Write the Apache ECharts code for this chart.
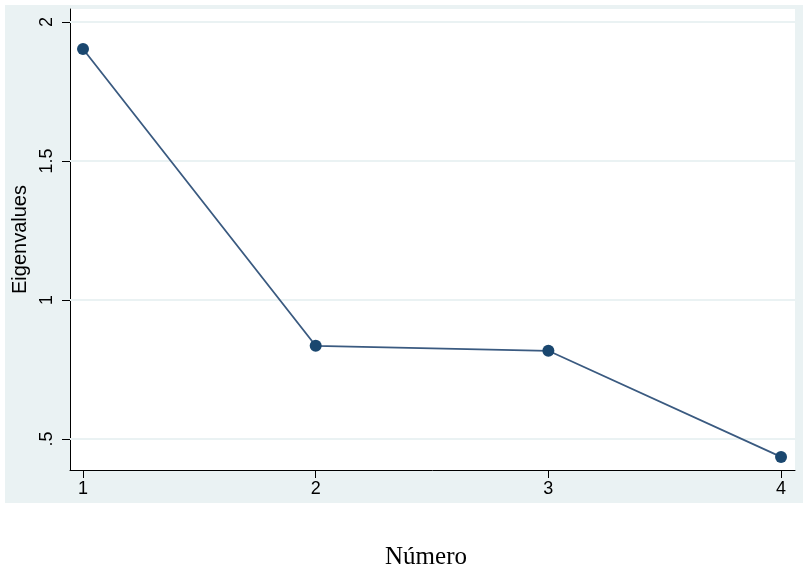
<!DOCTYPE html>
<html>
<head>
<meta charset="utf-8">
<script src="https://cdn.jsdelivr.net/npm/echarts@6/dist/echarts.min.js"></script>
<style>
html,body{margin:0;padding:0;background:#fff;}
#c{width:803px;height:574px;}
</style>
</head>
<body>
<div id="c"></div>
<script>
var numbers = [1, 2, 3, 4];
var eigenvalues = [1.903, 0.835, 0.817, 0.435];
var yTicks = [0.5, 1, 1.5, 2];
var yTickLabels = ['.5', '1', '1.5', '2'];
var xTicks = [1, 2, 3, 4];
var yTitle = 'Eigenvalues';
var xTitle = 'Número';

var chart = echarts.init(document.getElementById('c'), null, {renderer: 'canvas'});
var font = 'Liberation Sans, Arial, sans-serif';
var labelMap = {};
yTicks.forEach(function (v, i) { labelMap[v] = yTickLabels[i]; });

chart.setOption({
  animation: false,
  backgroundColor: '#ffffff',
  graphic: [
    {
      type: 'rect', z: -100, zlevel: 0, silent: true,
      shape: {x: 5, y: 5, width: 798, height: 498},
      style: {fill: '#EAF2F3'}
    },
    {
      type: 'text', x: 426, y: 557, silent: true,
      style: {
        text: xTitle, fill: '#000', font: '25px "Liberation Serif", "Times New Roman", serif',
        align: 'center', verticalAlign: 'middle'
      }
    }
  ],
  grid: {
    left: 70, top: 9, right: 8, bottom: 104,
    show: true, backgroundColor: '#ffffff', borderWidth: 0
  },
  xAxis: {
    type: 'value', min: 0.944, max: 4.06,
    axisLine: {show: true, onZero: false, lineStyle: {color: '#000', width: 1}},
    axisTick: {show: true, length: 8, lineStyle: {color: '#000'}, customValues: xTicks},
    axisLabel: {show: true, customValues: xTicks, color: '#000', fontSize: 18, fontFamily: font, margin: 10},
    splitLine: {show: false}
  },
  yAxis: {
    type: 'value', min: 0.388, max: 2.047,
    name: yTitle, nameLocation: 'middle', nameRotate: 90, nameGap: 38,
    nameTextStyle: {color: '#000', fontSize: 20, fontFamily: font},
    axisLine: {show: true, onZero: false, lineStyle: {color: '#000', width: 1}},
    axisTick: {show: true, length: 8, lineStyle: {color: '#000'}, customValues: yTicks},
    axisLabel: {
      show: true, customValues: yTicks, rotate: 90, color: '#000', fontSize: 18, fontFamily: font, margin: 14,
      formatter: function (v) { return labelMap[v] !== undefined ? labelMap[v] : String(v); }
    },
    splitLine: {show: false}
  },
  series: [{
    type: 'line',
    data: numbers.map(function (n, i) { return [n, eigenvalues[i]]; }),
    symbol: 'circle', symbolSize: 12,
    itemStyle: {color: '#1a476f'},
    lineStyle: {color: '#3a5a80', width: 1.8},
    z: 5,
    markLine: {
      silent: true, symbol: 'none', z: 1,
      label: {show: false},
      lineStyle: {color: '#EAF2F3', width: 2, type: 'solid'},
      data: yTicks.map(function (v) { return {yAxis: v}; })
    }
  }]
});
</script>
</body>
</html>
